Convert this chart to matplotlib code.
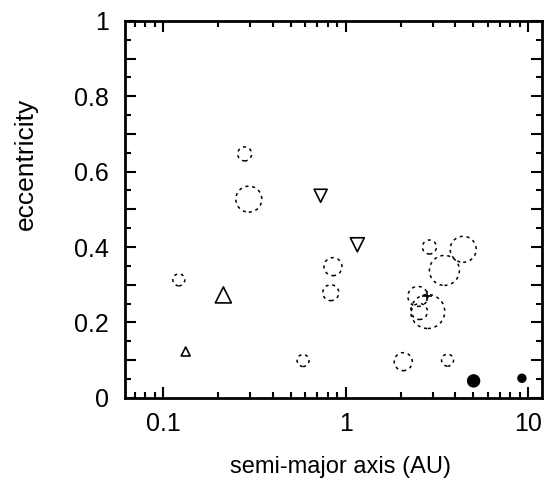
import matplotlib.pyplot as plt
from matplotlib.ticker import MultipleLocator, NullFormatter

plt.rcParams['font.family'] = ['Liberation Sans', 'DejaVu Sans']

# dashed open circles: semi-major axis, eccentricity, marker radius (px)
circ_a = [0.28, 0.295, 0.122, 0.585, 0.853, 0.83, 2.07, 3.62, 2.88, 4.41, 3.48, 2.49, 2.82, 2.54]
circ_e = [0.647, 0.527, 0.313, 0.099, 0.348, 0.279, 0.096, 0.10, 0.40, 0.394, 0.338, 0.269, 0.229, 0.229]
circ_r = [7, 13, 6, 6, 9, 8, 9, 6, 7, 13, 15, 10, 17, 8]

# upward triangles
tri_up_a = [0.214, 0.133]
tri_up_e = [0.273, 0.123]
tri_up_r = [8, 4.5]

# downward triangles
tri_dn_a = [0.73, 1.16]
tri_dn_e = [0.536, 0.406]
tri_dn_r = [6.5, 7]

# filled circles
fill_a = [5.03, 9.25]
fill_e = [0.045, 0.052]
fill_r = [6, 4]

# cross
plus_a = [2.8]
plus_e = [0.27]

def px_to_s(r):
    # radius in pixels -> scatter size in pt^2 at 100 dpi
    return [(2 * v * 0.72) ** 2 for v in r]

fig = plt.figure(figsize=(5.49, 4.84), dpi=100)
ax = fig.add_axes([0.228, 0.178, 0.759, 0.779])

ax.scatter(circ_a, circ_e, s=px_to_s(circ_r), facecolors='none', edgecolors='black',
           linewidths=1.1, linestyles=(0, (2, 2.5)), zorder=3)
ax.scatter(tri_up_a, tri_up_e, s=px_to_s(tri_up_r), marker='^', facecolors='none',
           edgecolors='black', linewidths=1.2, zorder=3)
ax.scatter(tri_dn_a, tri_dn_e, s=px_to_s(tri_dn_r), marker='v', facecolors='none',
           edgecolors='black', linewidths=1.2, zorder=3)
ax.scatter(fill_a, fill_e, s=px_to_s(fill_r), color='black', zorder=3)
ax.scatter(plus_a, plus_e, s=60, marker='+', color='black', linewidths=1.2, zorder=4)

ax.set_xscale('log')
ax.set_xlim(0.062, 11.9)
ax.set_ylim(0, 1)
ax.set_xticks([0.1, 1, 10])
ax.set_xticklabels(['0.1', '1', '10'])
ax.xaxis.set_minor_formatter(NullFormatter())
ax.yaxis.set_minor_locator(MultipleLocator(0.05))
ax.set_yticks([0, 0.1, 0.2, 0.3, 0.4, 0.5, 0.6, 0.7, 0.8, 0.9, 1.0])
ax.set_yticklabels(['0', '', '0.2', '', '0.4', '', '0.6', '', '0.8', '', '1'])

ax.tick_params(which='both', direction='in', top=True, right=True, width=1.5, labelsize=18)
ax.tick_params(which='major', length=8)
ax.tick_params(axis='y', which='major', pad=12)
ax.tick_params(axis='x', which='major', pad=10)
ax.tick_params(which='minor', length=4)
for s in ax.spines.values():
    s.set_linewidth(2)

ax.set_xlabel('semi-major axis (AU)', fontsize=17)
ax.set_ylabel('eccentricity', fontsize=19)
ax.xaxis.set_label_coords(0.516, -0.155)
ax.yaxis.set_label_coords(-0.21, 0.62)

fig.savefig('out.png', dpi=100)
